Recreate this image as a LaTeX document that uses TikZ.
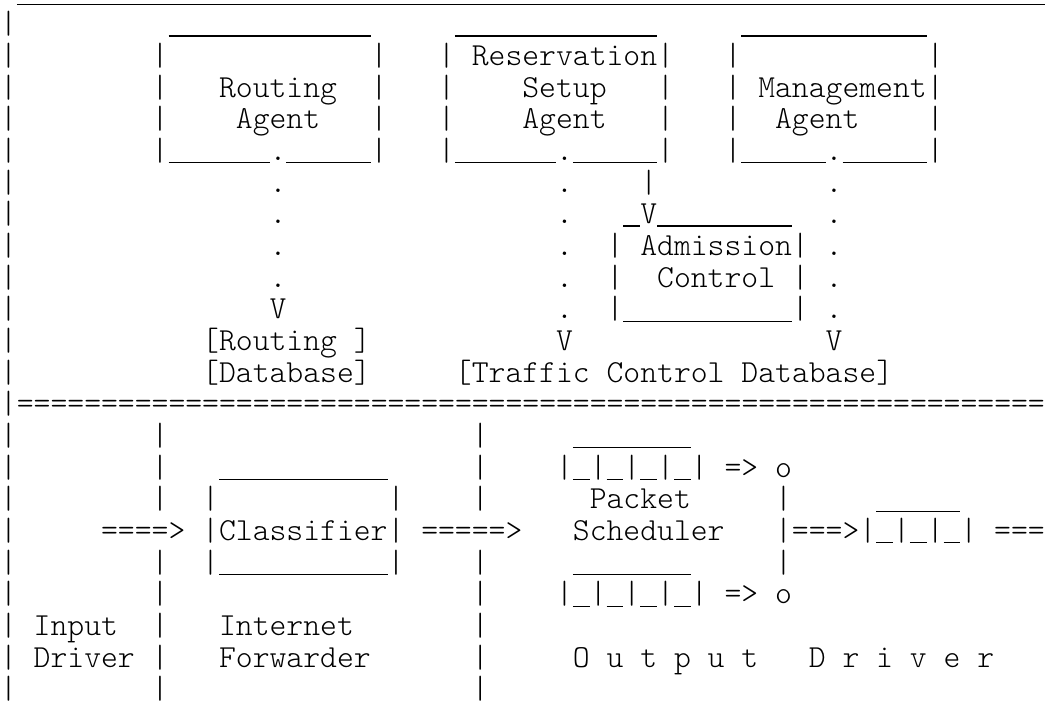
\documentclass[tikz,border=0pt]{standalone}
\usepackage{fontspec}
\newfontfamily\asciifont{lmmonolt10-regular.otf}
\usepackage{tikz}

\def\cw{16.85pt}   % width of one character cell
\def\lh{31.67pt}   % line pitch
\tikzset{asc/.style={anchor=base west,inner sep=0pt,outer sep=0pt,
    font=\asciifont\fontsize{32.1pt}{31.67pt}\selectfont\frenchspacing}}
% text at column #1, row #2
\newcommand\asc[3]{\node[asc] (r#2c#1) at ({#1*\cw},{-2pt-#2*\lh}) {#3};}
\newcommand\rep[2]{\foreach \k in {1,...,#1}{#2}}
% a run of #1 underscores, drawn unbroken
\newcommand\us[1]{\rule[-3pt]{\dimexpr\cw*#1\relax}{1.2pt}}

\begin{document}
\begin{tikzpicture}
	\fill[white] (0,0) rectangle (1045pt,-702pt);
	\useasboundingbox (0,0) rectangle (1045pt,-702pt);
	
	% FRAME
	\asc{1}{0}{\us{61}}
	\foreach \r in {1,...,22} {\asc{0}{\r}{|}}
	\asc{1}{13}{\rep{61}{=}}
	
	% AGENTS
	\asc{10}{1}{\us{12}}
	\asc{27}{1}{\us{12}}
	\asc{44}{1}{\us{11}}
	\foreach \r in {2,3,4} {
		\asc{9}{\r}{|} \asc{22}{\r}{|}
		\asc{26}{\r}{|} \asc{39}{\r}{|}
		\asc{43}{\r}{|} \asc{55}{\r}{|}
	}
	\asc{28}{2}{Reservation}
	\asc{13}{3}{Routing}
	\asc{31}{3}{Setup}
	\asc{45}{3}{Management}
	\asc{14}{4}{Agent}
	\asc{31}{4}{Agent}
	\asc{46}{4}{Agent}
	\asc{9}{5}{|\us{6}.\us{5}|}
	\asc{26}{5}{|\us{6}.\us{5}|}
	\asc{43}{5}{|\us{5}.\us{5}|}
	
	% DOTTED LINKS
	\foreach \r in {6,...,9} {\asc{16}{\r}{.}}
	\asc{16}{10}{V}
	\foreach \r in {6,...,10} {\asc{33}{\r}{.} \asc{49}{\r}{.}}
	\asc{33}{11}{V}
	\asc{49}{11}{V}
	
	% ADMISSION CONTROL
	\asc{38}{6}{|}
	\asc{37}{7}{\us{1}V\us{8}}
	\foreach \r in {8,9} {\asc{36}{\r}{|} \asc{47}{\r}{|}}
	\asc{38}{8}{Admission}
	\asc{39}{9}{Control}
	\asc{36}{10}{|\us{10}|}
	
	% DATABASES
	\asc{12}{11}{[Routing ]}
	\asc{12}{12}{[Database]}
	\asc{27}{12}{[Traffic Control Database]}
	
	% LOWER PART
	\foreach \r in {14,15,16,18,19,20,21,22} {\asc{9}{\r}{|} \asc{28}{\r}{|}}
	\asc{13}{15}{\us{10}}
	\asc{12}{16}{|} \asc{23}{16}{|}
	\asc{6}{17}{====>}
	\asc{12}{17}{|Classifier|}
	\asc{25}{17}{=====>}
	\asc{12}{18}{|\us{10}|}
	\asc{2}{20}{Input}
	\asc{2}{21}{Driver}
	\asc{13}{20}{Internet}
	\asc{13}{21}{Forwarder}
	
	% SCHEDULER
	\asc{34}{14}{\us{7}}
	\asc{33}{15}{|\us{1}|\us{1}|\us{1}|\us{1}| => o}
	\asc{35}{16}{Packet}
	\asc{34}{17}{Scheduler}
	\asc{34}{18}{\us{7}}
	\asc{33}{19}{|\us{1}|\us{1}|\us{1}|\us{1}| => o}
	\asc{46}{16}{|} \asc{46}{18}{|}
	\asc{52}{16}{\us{5}}
	\asc{46}{17}{|===>|\us{1}|\us{1}|\us{1}|}
	\asc{59}{17}{===}
	\asc{34}{21}{O u t p u t}
	\asc{48}{21}{D r i v e r}
	
\end{tikzpicture}
\end{document}
